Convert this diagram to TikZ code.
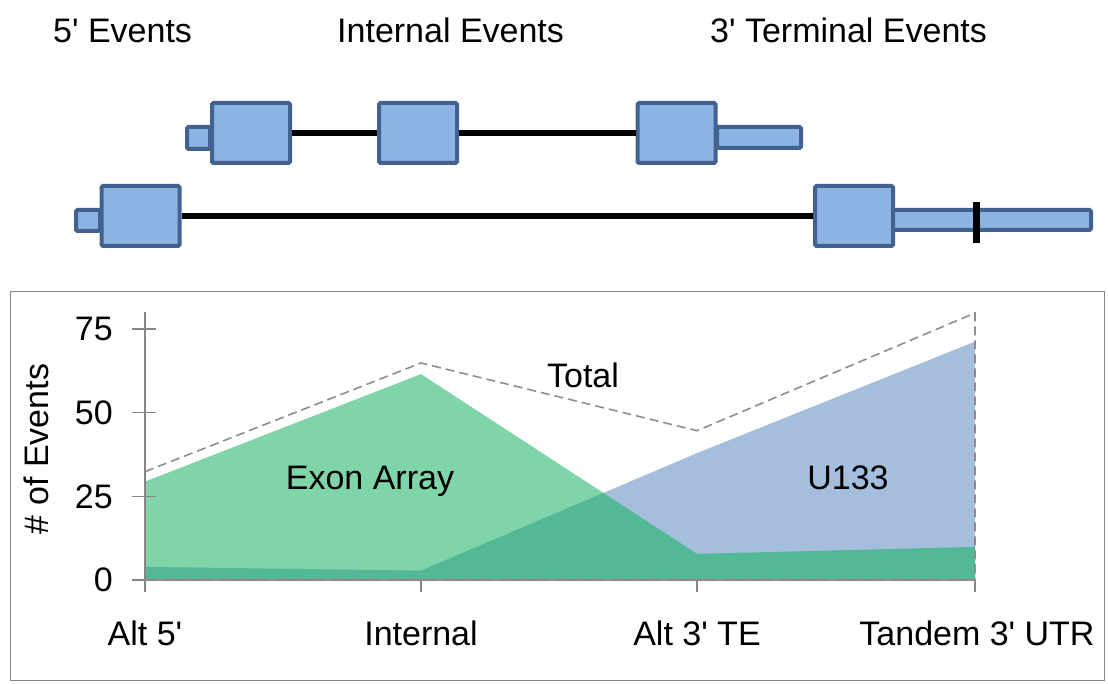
\documentclass[tikz,border=0pt]{standalone}
\usepackage{fontspec}
\setmainfont{Liberation Sans}
\definecolor{exonfill}{HTML}{8DB3E2}
\definecolor{exonedge}{HTML}{41618F}
\definecolor{arraygreen}{HTML}{7FD4A8}
\definecolor{ublue}{HTML}{A6BEDD}
\definecolor{overlapgreen}{HTML}{52B895}
\definecolor{totaldash}{HTML}{958A91}
\definecolor{axisgray}{HTML}{868686}
\newcommand{\pr}{\textquotesingle}
\begin{document}
\begin{tikzpicture}[x=1pt,y=-1pt,
  lbl/.style={inner sep=0pt, font=\fontsize{34}{40}\selectfont},
  exonbox/.style={draw=exonedge, fill=exonfill, line width=4pt, rounded corners=1.5pt,
    minimum width=78pt, minimum height=60pt, inner sep=0pt},
  utrbox/.style={draw=exonedge, fill=exonfill, line width=4pt, rounded corners=1.5pt, inner sep=0pt},
  intron/.style={line width=6pt, black},
  axisline/.style={draw=axisgray, line width=1.2pt},
  totalline/.style={draw=totaldash, line width=1.6pt, dash pattern=on 9pt off 5pt},
]
\useasboundingbox (0,0) rectangle (1108,684);

% section headings
\node[lbl, anchor=base west] (h5) at (53,43) {5\pr{} Events};
\node[lbl, anchor=base west] (hint) at (337,43) {Internal Events};
\node[lbl, anchor=base west] (h3) at (710,43) {3\pr{} Terminal Events};

% transcript 1
\node[utrbox, minimum width=23pt, minimum height=22pt] (t1u5) at (198.5,138) {};
\node[exonbox] (t1a) at (251,133) {};
\node[exonbox] (t1b) at (418,133) {};
\node[utrbox, minimum width=84pt, minimum height=21pt] (t1u3) at (759,137.5) {};
\node[exonbox] (t1c) at (676.5,133) {};
\draw[intron] (t1a.east) -- (t1b.west);
\draw[intron] (t1b.east) -- (t1c.west);

% transcript 2
\node[utrbox, minimum width=24pt, minimum height=21pt] (t2u5) at (88,220.5) {};
\node[exonbox] (t2a) at (140.5,216) {};
\node[utrbox, minimum width=199pt, minimum height=20pt] (t2u3) at (991.5,220) {};
\node[exonbox] (t2b) at (854,216) {};
\draw[intron] (t2a.east) -- (t2b.west);
\coordinate (pasTop) at (976.5,202);
\coordinate (pasBot) at (976.5,243);
\draw[line width=7pt, black] (pasTop) -- (pasBot);

% chart frame
\draw[draw=axisgray, line width=1pt] (10,292) rectangle (1104,680);

% areas
\def\arraypoly{(145,580) -- (145,481.6) -- (421,374.1) -- (697,553.9) -- (975,546.9) -- (975,580) -- cycle}
\def\upoly{(145,580) -- (145,566.9) -- (421,570.6) -- (697,453.1) -- (975,341.6) -- (975,580) -- cycle}
\fill[arraygreen] \arraypoly;
\fill[ublue] \upoly;
\begin{scope}
  \clip \arraypoly;
  \fill[overlapgreen] \upoly;
\end{scope}

% axes
\draw[axisline] (145,580) -- (975,580);
\draw[axisline] (145,312) -- (145,592);
\foreach \yy in {329,412.7,496.4,580} \draw[axisline] (132,\yy) -- (156,\yy);
\foreach \xx in {421,697,975} \draw[axisline] (\xx,580) -- (\xx,592);

% total outline
\draw[totalline] (145,471.7) -- (421,363) -- (697,430.7) -- (975,313) -- (975,580) -- (145,580);

% tick labels
\node[lbl, anchor=east] (y75) at (113,329) {75};
\node[lbl, anchor=east] (y50) at (113,412.7) {50};
\node[lbl, anchor=east] (y25) at (113,496.4) {25};
\node[lbl, anchor=east] (y0) at (113,580) {0};
\node[lbl, rotate=90] (ylab) at (36,449) {\# of Events};

\node[lbl, anchor=base] (xa5) at (145,645) {Alt 5\pr};
\node[lbl, anchor=base] (xint) at (421,645) {Internal};
\node[lbl, anchor=base] (xa3) at (697,645) {Alt 3\pr{} TE};
\node[lbl, anchor=base] (xtan) at (977,645) {Tandem 3\pr{} UTR};

% series labels
\node[lbl, anchor=base] (lexon) at (370,489) {Exon Array};
\node[lbl, anchor=base] (ltotal) at (583,387) {Total};
\node[lbl, anchor=base] (lu133) at (848,489) {U133};
\end{tikzpicture}
\end{document}
